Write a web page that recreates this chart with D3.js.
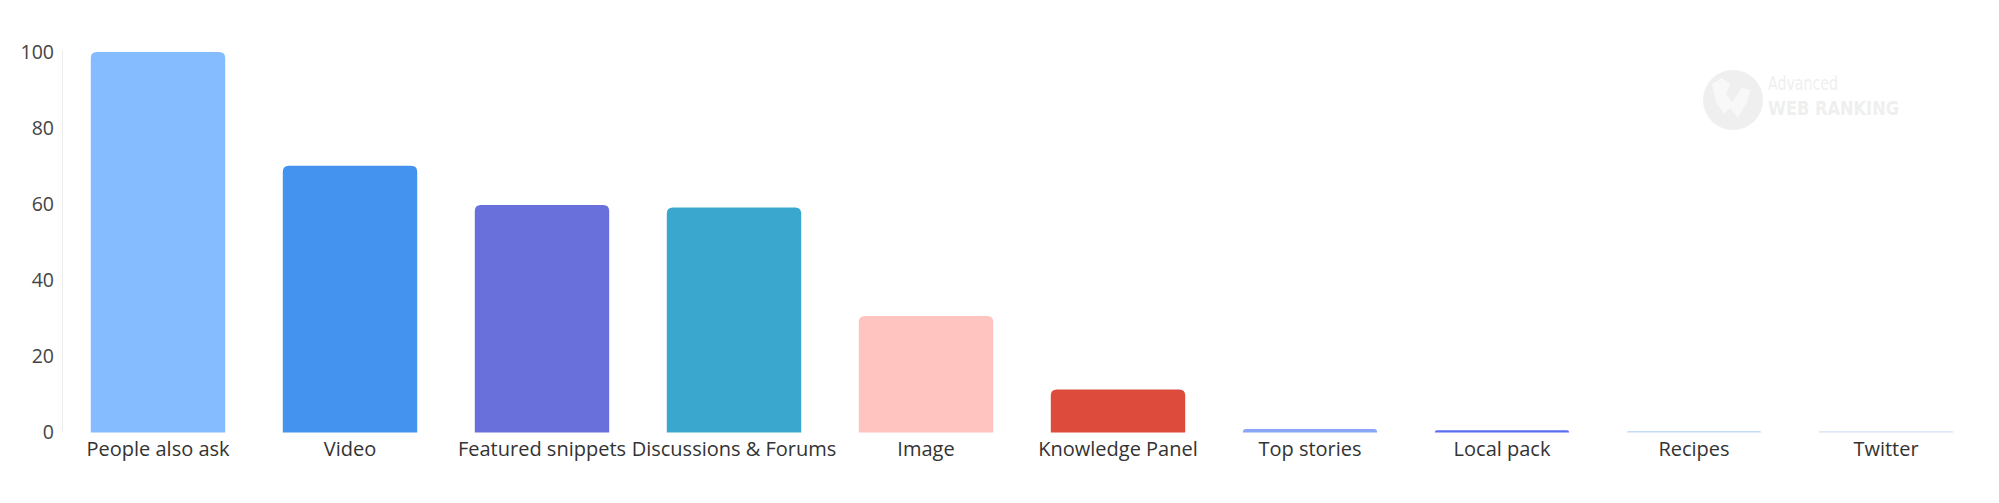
<!DOCTYPE html>
<html>
<head>
<meta charset="utf-8">
<script src="https://cdn.jsdelivr.net/npm/d3@7"></script>
<style>
  html, body { margin: 0; padding: 0; background: #ffffff; }
  svg { display: block; }
</style>
</head>
<body>
<svg id="chart" width="1999" height="503"></svg>
<script>
const categories = ["People also ask", "Video", "Featured snippets", "Discussions & Forums", "Image", "Knowledge Panel", "Top stories", "Local pack", "Recipes", "Twitter"];
const values = [100, 70.1, 59.8, 59.1, 30.6, 11.3, 0.9, 0.6, 0.4, 0.3];
const colors = ["#84bcff", "#4493ee", "#6970db", "#3aa8ce", "#ffc3c0", "#dd4b3c", "#8aa6f6", "#5c6ef0", "#c6dbf8", "#d3def6"];
const yTicks = [0, 20, 40, 60, 80, 100];

const svg = d3.select("#chart");
const W = 1999, H = 503;
const margin = { left: 62, right: 17, top: 52, bottom: 70.5 };

const x = d3.scaleBand().domain(categories).range([margin.left, W - margin.right]).paddingInner(0.3).paddingOuter(0.15);
const y = d3.scaleLinear().domain([0, 100]).range([H - margin.bottom, margin.top]);

// watermark
const wm = svg.append("g").attr("fill", "#efefef");
wm.append("circle").attr("cx", 1733).attr("cy", 100).attr("r", 30);
wm.append("path").attr("d", "M1712 84 l10 -6 l8 6 l-4 10 l6 8 l10 -14 l8 2 l-2 10 l-10 18 l-8 -10 l-6 6 l-8 -12 z").attr("fill", "#f8f8f8");
wm.append("text").attr("x", 1768).attr("y", 90).attr("font-family", "'Liberation Sans Narrow', 'DejaVu Sans Condensed', sans-serif").attr("font-size", 19).attr("font-weight", 300).attr("textLength", 70).attr("lengthAdjust", "spacingAndGlyphs").text("Advanced");
wm.append("text").attr("x", 1768).attr("y", 115).attr("font-family", "'Liberation Sans Narrow', 'DejaVu Sans Condensed', sans-serif").attr("font-size", 19).attr("font-weight", 700).attr("textLength", 131).attr("lengthAdjust", "spacingAndGlyphs").text("WEB RANKING");

// y axis line
svg.append("line").attr("x1", margin.left + 0.5).attr("x2", margin.left + 0.5).attr("y1", y(100) - 2).attr("y2", y(0)).attr("stroke", "#ececec").attr("stroke-width", 1);

// y ticks
const yAxis = d3.axisLeft(y).tickValues(yTicks).tickSize(0).tickPadding(8);
const gy = svg.append("g").attr("transform", `translate(${margin.left},0)`).call(yAxis);
gy.select(".domain").remove();
gy.selectAll("text").attr("font-family", "'Open Sans', sans-serif").attr("font-size", 19.5).attr("fill", "#444");

// bars with rounded top corners
function barPath(x0, w, yTop, yBase, r) {
  const h = yBase - yTop;
  const rr = Math.min(r, h, w / 2);
  return `M${x0},${yBase} L${x0},${yTop + rr} Q${x0},${yTop} ${x0 + rr},${yTop} L${x0 + w - rr},${yTop} Q${x0 + w},${yTop} ${x0 + w},${yTop + rr} L${x0 + w},${yBase} Z`;
}
svg.append("g").selectAll("path").data(categories).join("path")
  .attr("d", (d, i) => barPath(x(d), x.bandwidth(), y(values[i]), y(0), 6))
  .attr("fill", (d, i) => colors[i]);

// x axis labels
const xAxis = d3.axisBottom(x).tickSize(0).tickPadding(9);
const gx = svg.append("g").attr("transform", `translate(0,${y(0)})`).call(xAxis);
gx.select(".domain").remove();
gx.selectAll("text").attr("font-family", "'Open Sans', sans-serif").attr("font-size", 20).attr("fill", "#333");
</script>
</body>
</html>
